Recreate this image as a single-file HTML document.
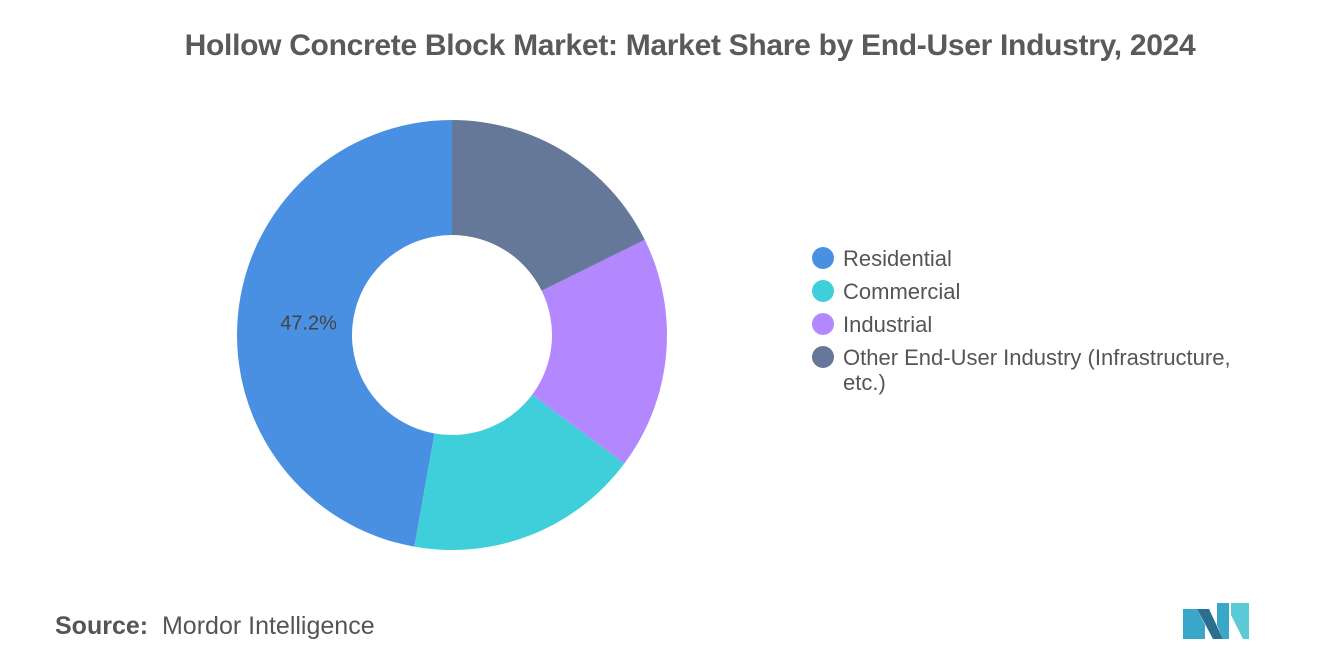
<!DOCTYPE html>
<html><head><meta charset="utf-8"><style>
body{margin:0;width:1320px;height:665px;background:#fff;font-family:"Liberation Sans",sans-serif;overflow:hidden;position:relative}
.t{position:absolute;left:0;width:1380px;text-align:center;top:29px;font-size:30px;font-weight:bold;color:#5a5a5a;letter-spacing:-0.3px}
.leg{position:absolute;left:812px;font-size:22px;color:#555}
.leg div{position:relative;padding-left:31px;height:33px;line-height:25px}
.leg span.d{position:absolute;left:0;top:1px;width:22px;height:22px;border-radius:50%}
.src{position:absolute;left:55px;top:612px;font-size:25px;color:#555}
</style></head><body>
<div class="t">Hollow Concrete Block Market: Market Share by End-User Industry, 2024</div>
<svg id="c" width="1320" height="665" style="position:absolute;left:0;top:0"></svg>
<div class="leg" style="top:246px">
<div><span class="d" style="background:#4a90e2"></span>Residential</div>
<div><span class="d" style="background:#3ecfda"></span>Commercial</div>
<div><span class="d" style="background:#b388ff"></span>Industrial</div>
<div style="height:auto"><span class="d" style="background:#657899"></span>Other End-User Industry (Infrastructure,<br>etc.)</div>
</div>
<div class="src"><b>Source:</b>&nbsp; Mordor Intelligence</div>
<svg width="70" height="40" style="position:absolute;left:1183px;top:601px">
<polygon points="0,38 0,8 14,8 22,24 22,38" fill="#3aa7c9"/>
<polygon points="14,8 26,8 40,38 30,38" fill="#2a6f8f"/>
<polygon points="34,2 46,2 46,38 40,38 34,24" fill="#3aa7c9"/>
<polygon points="48,2 66,2 66,38 60,38 48,14" fill="#5cc9d6"/>
</svg>
<script>
const categories=["Residential","Commercial","Industrial","Other End-User Industry"];
const values=[47.2,17.6,17.5,17.7];
const colors=["#4a90e2","#3ecfda","#b388ff","#657899"];
const svg=document.getElementById('c');
const cx=452,cy=335,R=215,r=100;
const total=values.reduce((a,b)=>a+b,0);
function pt(a,rad){return [cx+rad*Math.sin(a),cy-rad*Math.cos(a)];}
let a0=0;
values.forEach((v,i)=>{
 const a1=a0-v/total*2*Math.PI;
 const [x0,y0]=pt(a0,R),[x1,y1]=pt(a1,R),[x2,y2]=pt(a1,r),[x3,y3]=pt(a0,r);
 const lg=(a0-a1)>Math.PI?1:0;
 const p=document.createElementNS('http://www.w3.org/2000/svg','path');
 p.setAttribute('d',`M${x0},${y0} A${R},${R} 0 ${lg} 0 ${x1},${y1} L${x2},${y2} A${r},${r} 0 ${lg} 1 ${x3},${y3} Z`);
 p.setAttribute('fill',colors[i]);
 
 
 svg.appendChild(p);
 if(i===0){
  const am=(a0+a1)/2;const [tx,ty]=pt(am,144);
  const t=document.createElementNS('http://www.w3.org/2000/svg','text');
  t.setAttribute('x',tx);t.setAttribute('y',ty+7);t.setAttribute('text-anchor','middle');
  t.setAttribute('font-size','20');t.setAttribute('fill','#444');t.setAttribute('font-family','Liberation Sans, sans-serif');
  t.textContent=v.toFixed(1)+'%';
  
  
  svg.appendChild(t);
 }
 a0=a1;
});
</script>
</body></html>
